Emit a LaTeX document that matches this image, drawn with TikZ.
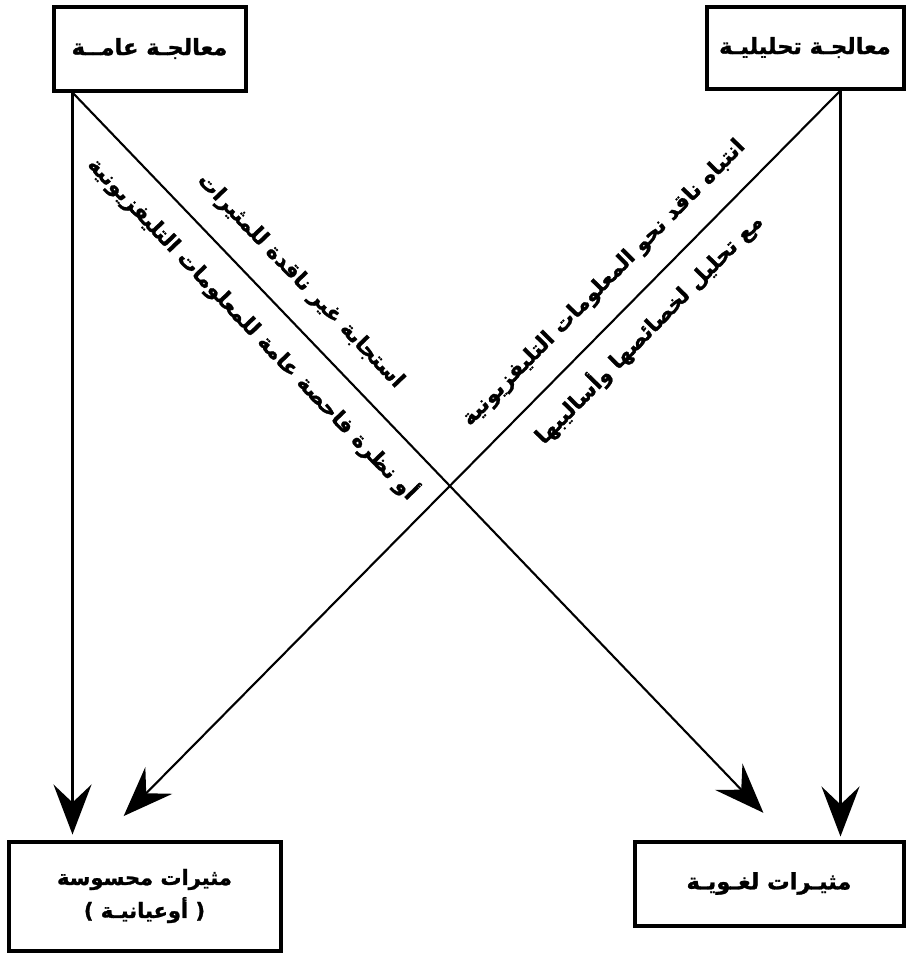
\documentclass[tikz,border=0pt]{standalone}
\usepackage{fontspec}
\newfontfamily\arabicfont[Script=Arabic, BoldFeatures={FakeBold=1.2}]{DejaVu Sans}
\TeXXeTstate=1
\usetikzlibrary{arrows.meta,positioning}
\newcommand{\artext}[1]{\beginR #1\endR}

\begin{document}
\begin{tikzpicture}[x=1pt, y=-1pt,
    box/.style={draw, line width=4pt, inner sep=0pt, font=\arabicfont\bfseries\fontsize{22.5}{30}\selectfont},
    link/.style={line width=2.1pt, -{Stealth[length=50pt, width=38pt, inset=18pt]}},
    lbl/.style={sloped, inner sep=0pt, font=\arabicfont\bfseries\fontsize{21.5}{26}\selectfont}]
    \useasboundingbox (0,0) rectangle (906,956);

    \node[box, minimum width=192pt, minimum height=84pt] (gen) at (149.5,48.5) {\artext{معالجـة عامــة}};
    \node[box, minimum width=197pt, minimum height=82pt] (ana) at (805,47.5) {\artext{معالجـة تحليليـة}};
    \node[box, minimum width=272pt, minimum height=109pt, align=center, font=\arabicfont\bfseries\fontsize{21}{28}\selectfont]
        (sens) at (144.5,896) {\artext{مثيرات محسوسة}\\[5pt]\artext{( أوعيانيـة )}};
    \node[box, minimum width=269pt, minimum height=84pt] (ling) at (769,883.5) {\artext{مثيـرات لغـويـة}};

    \coordinate (gen-out) at ([xshift=21pt]gen.south west);
    \coordinate (ana-out) at ([xshift=-65pt]ana.south east);
    \coordinate (ling-in) at ([xshift=20pt]ling.north);
    \coordinate (sens-in) at ([xshift=-44pt]sens.north);

    \path[link]
    (gen-out) edge[shorten >=5pt] (gen-out |- sens.north)
    (ana-out) edge[shorten >=3pt] (ana-out |- ling.north)
    (gen-out) edge[shorten >=37pt]
        node[lbl, pos=.284, above=22pt] {\artext{استجابة غير ناقدة للمثيرات}}
        node[lbl, pos=.285, below=18pt] {\artext{أو نظرة فاحصة عامة للمعلومات التليفزيونية}} (ling-in)
    (ana-out) edge[shorten >=33pt]
        node[lbl, pos=.288, above=21pt] {\artext{انتباه ناقد نحو المعلومات التليفزيونية}}
        node[lbl, pos=.289, below=16pt] {\artext{مع تحليل لخصائصها وأساليبها}} (sens-in);
\end{tikzpicture}
\end{document}
